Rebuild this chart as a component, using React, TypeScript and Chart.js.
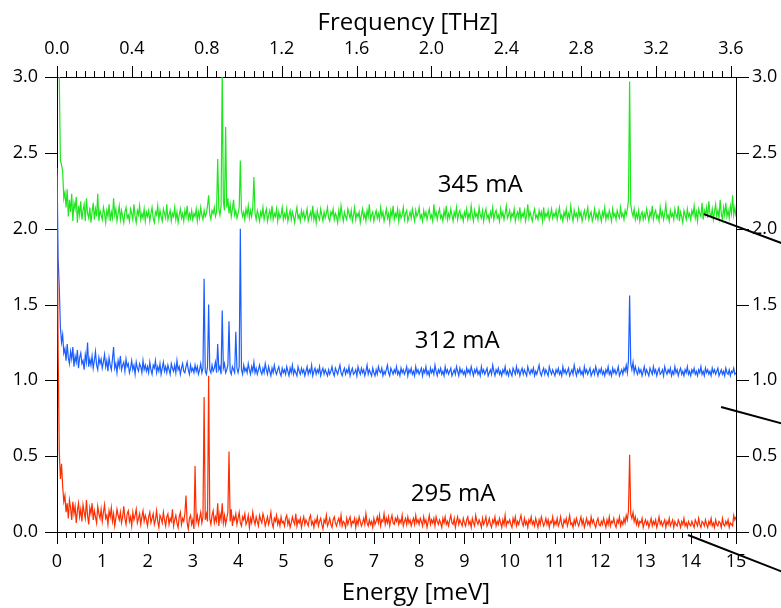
import React, { useEffect, useRef } from "react";
import { Chart, registerables } from "chart.js";

Chart.register(...registerables);

// Energy grid (meV) step between samples; 1 meV = 0.241799 THz
const ENERGY_STEP_MEV = 0.025;
const MEV_TO_THZ = 0.241799;
const ENERGY_MIN = 0;
const ENERGY_MAX = 15;
const SIGNAL_MIN = 0;
const SIGNAL_MAX = 3;

// 295 mA spectrum (offset 0), 40 samples per meV
const RED_295 = [
  2.35, 1.20, 0.53, 0.35, 0.45, 0.30, 0.20, 0.24, 0.13, 0.19, 0.09, 0.21, 0.16, 0.08, 0.20, 0.12, 0.17, 0.06, 0.14, 0.19,
  0.10, 0.15, 0.07, 0.18, 0.13, 0.09, 0.21, 0.11, 0.05, 0.16, 0.12, 0.19, 0.08, 0.14, 0.10, 0.06, 0.17, 0.12, 0.09, 0.15,
  0.07, 0.13, 0.18, 0.09, 0.11, 0.05, 0.14, 0.10, 0.16, 0.07, 0.12, 0.04, 0.09, 0.15, 0.11, 0.08, 0.13, 0.06, 0.10, 0.17,
  0.09, 0.05, 0.12, 0.14, 0.07, 0.10, 0.04, 0.13, 0.08, 0.11, 0.15, 0.06, 0.09, 0.12, 0.05, 0.10, 0.14, 0.07, 0.11, 0.08,
  0.04, 0.10, 0.13, 0.06, 0.09, 0.12, 0.05, 0.08, 0.14, 0.07, 0.03, 0.11, 0.09, 0.06, 0.13, 0.08, 0.04, 0.10, 0.12, 0.05,
  0.09, 0.07, 0.15, 0.04, 0.08, 0.11, 0.06, 0.03, 0.10, 0.13, 0.05, 0.09, 0.07, 0.12, 0.24, 0.06, 0.02, 0.09, 0.11, 0.05,
  0.08, 0.02, 0.435, 0.07, 0.11, 0.05, 0.09, 0.13, 0.06, 0.10, 0.89, 0.08, 0.12, 0.07, 1.03, 0.09, 0.05, 0.11, 0.14, 0.06,
  0.10, 0.07, 0.19, 0.04, 0.12, 0.08, 0.19, 0.06, 0.11, 0.05, 0.09, 0.13, 0.53, 0.07, 0.15, 0.04, 0.10, 0.08, 0.12, 0.05,
  0.09, 0.13, 0.06, 0.04, 0.10, 0.08, 0.12, 0.05, 0.07, 0.11, 0.03, 0.09, 0.06, 0.13, 0.08, 0.05, 0.10, 0.07, 0.04, 0.11,
  0.08, 0.06, 0.12, 0.09, 0.04, 0.07, 0.10, 0.05, 0.08, 0.13, 0.06, 0.03, 0.09, 0.07, 0.11, 0.05, 0.08, 0.04, 0.10, 0.06,
  0.07, 0.04, 0.09, 0.11, 0.05, 0.08, 0.03, 0.06, 0.10, 0.07, 0.05, 0.12, 0.04, 0.08, 0.06, 0.09, 0.03, 0.07, 0.10, 0.05,
  0.08, 0.06, 0.04, 0.09, 0.11, 0.05, 0.07, 0.03, 0.08, 0.06, 0.10, 0.04, 0.07, 0.09, 0.05, 0.02, 0.08, 0.06, 0.11, 0.04,
  0.06, 0.09, 0.05, 0.03, 0.08, 0.10, 0.06, 0.04, 0.07, 0.09, 0.05, 0.11, 0.04, 0.07, 0.06, 0.03, 0.09, 0.05, 0.08, 0.10,
  0.04, 0.07, 0.06, 0.09, 0.03, 0.08, 0.05, 0.10, 0.07, 0.04, 0.06, 0.09, 0.05, 0.12, 0.06, 0.04, 0.08, 0.05, 0.07, 0.03,
  0.09, 0.05, 0.07, 0.10, 0.06, 0.11, 0.04, 0.08, 0.07, 0.12, 0.05, 0.09, 0.06, 0.10, 0.04, 0.08, 0.11, 0.06, 0.05, 0.09,
  0.07, 0.10, 0.05, 0.08, 0.06, 0.11, 0.04, 0.07, 0.09, 0.05, 0.10, 0.06, 0.08, 0.04, 0.07, 0.09, 0.05, 0.11, 0.06, 0.08,
  0.05, 0.09, 0.07, 0.04, 0.10, 0.06, 0.08, 0.03, 0.07, 0.11, 0.05, 0.08, 0.06, 0.09, 0.04, 0.10, 0.07, 0.05, 0.08, 0.06,
  0.03, 0.09, 0.06, 0.10, 0.05, 0.07, 0.04, 0.08, 0.11, 0.06, 0.05, 0.09, 0.03, 0.07, 0.10, 0.05, 0.08, 0.06, 0.04, 0.09,
  0.06, 0.04, 0.08, 0.10, 0.05, 0.07, 0.03, 0.09, 0.06, 0.04, 0.11, 0.07, 0.05, 0.08, 0.06, 0.03, 0.09, 0.05, 0.07, 0.10,
  0.04, 0.06, 0.09, 0.05, 0.03, 0.08, 0.06, 0.10, 0.04, 0.07, 0.05, 0.09, 0.06, 0.03, 0.08, 0.05, 0.11, 0.04, 0.07, 0.06,
  0.08, 0.05, 0.03, 0.09, 0.06, 0.10, 0.04, 0.07, 0.05, 0.08, 0.11, 0.06, 0.04, 0.09, 0.05, 0.07, 0.03, 0.08, 0.06, 0.10,
  0.05, 0.07, 0.04, 0.09, 0.06, 0.03, 0.08, 0.05, 0.10, 0.07, 0.04, 0.06, 0.09, 0.05, 0.08, 0.03, 0.07, 0.06, 0.10, 0.04,
  0.07, 0.05, 0.09, 0.04, 0.06, 0.10, 0.05, 0.03, 0.08, 0.06, 0.09, 0.04, 0.07, 0.11, 0.05, 0.06, 0.03, 0.08, 0.05, 0.09,
  0.06, 0.04, 0.07, 0.10, 0.05, 0.08, 0.03, 0.06, 0.09, 0.05, 0.07, 0.04, 0.10, 0.06, 0.08, 0.05, 0.03, 0.07, 0.09, 0.05,
  0.04, 0.07, 0.05, 0.09, 0.06, 0.03, 0.08, 0.05, 0.10, 0.04, 0.07, 0.06, 0.09, 0.05, 0.03, 0.08, 0.06, 0.10, 0.04, 0.07,
  0.05, 0.09, 0.06, 0.11, 0.08, 0.14, 0.51, 0.12, 0.09, 0.13, 0.07, 0.10, 0.05, 0.08, 0.04, 0.07, 0.06, 0.09, 0.03, 0.06,
  0.08, 0.05, 0.07, 0.03, 0.06, 0.09, 0.04, 0.07, 0.05, 0.08, 0.03, 0.06, 0.10, 0.05, 0.07, 0.04, 0.06, 0.08, 0.03, 0.07,
  0.05, 0.09, 0.04, 0.06, 0.08, 0.03, 0.07, 0.05, 0.04, 0.08, 0.06, 0.03, 0.07, 0.05, 0.09, 0.04, 0.06, 0.03, 0.07, 0.05,
  0.04, 0.07, 0.05, 0.03, 0.08, 0.06, 0.04, 0.09, 0.05, 0.03, 0.07, 0.06, 0.04, 0.08, 0.05, 0.03, 0.07, 0.05, 0.09, 0.04,
  0.06, 0.03, 0.08, 0.05, 0.04, 0.07, 0.06, 0.03, 0.09, 0.05, 0.04, 0.07, 0.05, 0.08, 0.03, 0.06, 0.05, 0.04, 0.11, 0.08,
  0.10,
];

// 312 mA spectrum (offset 1), 40 samples per meV
const BLUE_312 = [
  2.40, 1.80, 1.62, 1.35, 1.25, 1.30, 1.18, 1.21, 1.13, 1.24, 1.15, 1.11, 1.19, 1.14, 1.22, 1.09, 1.16, 1.12, 1.20, 1.08,
  1.15, 1.18, 1.11, 1.13, 1.07, 1.17, 1.12, 1.25, 1.09, 1.14, 1.10, 1.16, 1.08, 1.13, 1.19, 1.10, 1.07, 1.15, 1.11, 1.14,
  1.08, 1.12, 1.17, 1.09, 1.13, 1.06, 1.15, 1.10, 1.07, 1.14, 1.22, 1.08, 1.11, 1.05, 1.13, 1.09, 1.16, 1.07, 1.10, 1.12,
  1.06, 1.14, 1.09, 1.11, 1.05, 1.08, 1.13, 1.07, 1.10, 1.04, 1.12, 1.08, 1.06, 1.11, 1.09, 1.05, 1.13, 1.07, 1.10, 1.06,
  1.09, 1.05, 1.12, 1.07, 1.04, 1.10, 1.08, 1.13, 1.05, 1.09, 1.06, 1.11, 1.04, 1.08, 1.12, 1.06, 1.09, 1.05, 1.10, 1.07,
  1.04, 1.11, 1.08, 1.06, 1.10, 1.05, 1.13, 1.07, 1.09, 1.04, 1.08, 1.11, 1.06, 1.05, 1.09, 1.12, 1.07, 1.04, 1.10, 1.06,
  1.08, 1.05, 1.10, 1.06, 1.09, 1.04, 1.07, 1.11, 1.05, 1.08, 1.67, 1.06, 1.04, 1.09, 1.50, 1.07, 1.05, 1.10, 1.06, 1.08,
  1.12, 1.05, 1.24, 1.07, 1.09, 1.04, 1.46, 1.08, 1.11, 1.05, 1.07, 1.10, 1.39, 1.06, 1.04, 1.09, 1.07, 1.05, 1.32, 1.08,
  1.05, 1.09, 2.00, 1.07, 1.04, 1.10, 1.06, 1.08, 1.05, 1.11, 1.07, 1.04, 1.09, 1.06, 1.12, 1.05, 1.08, 1.04, 1.07, 1.10,
  1.06, 1.04, 1.08, 1.05, 1.11, 1.07, 1.04, 1.09, 1.06, 1.03, 1.08, 1.05, 1.10, 1.06, 1.04, 1.07, 1.09, 1.05, 1.03, 1.08,
  1.05, 1.07, 1.04, 1.09, 1.06, 1.03, 1.08, 1.05, 1.10, 1.04, 1.07, 1.05, 1.03, 1.09, 1.06, 1.04, 1.08, 1.05, 1.07, 1.03,
  1.06, 1.09, 1.04, 1.07, 1.05, 1.10, 1.03, 1.06, 1.08, 1.04, 1.07, 1.05, 1.09, 1.03, 1.06, 1.08, 1.04, 1.07, 1.05, 1.03,
  1.07, 1.04, 1.06, 1.09, 1.05, 1.03, 1.08, 1.06, 1.04, 1.07, 1.10, 1.05, 1.03, 1.06, 1.08, 1.04, 1.07, 1.05, 1.09, 1.03,
  1.06, 1.08, 1.04, 1.05, 1.07, 1.03, 1.09, 1.06, 1.04, 1.08, 1.05, 1.07, 1.03, 1.06, 1.10, 1.04, 1.07, 1.05, 1.03, 1.08,
  1.05, 1.03, 1.07, 1.04, 1.09, 1.06, 1.05, 1.08, 1.03, 1.06, 1.04, 1.07, 1.10, 1.05, 1.03, 1.08, 1.06, 1.04, 1.07, 1.05,
  1.09, 1.04, 1.06, 1.03, 1.08, 1.05, 1.07, 1.04, 1.06, 1.09, 1.03, 1.07, 1.05, 1.08, 1.04, 1.06, 1.03, 1.09, 1.05, 1.07,
  1.04, 1.06, 1.08, 1.03, 1.07, 1.05, 1.09, 1.04, 1.06, 1.03, 1.08, 1.05, 1.07, 1.04, 1.10, 1.06, 1.03, 1.07, 1.05, 1.08,
  1.04, 1.06, 1.03, 1.09, 1.05, 1.07, 1.04, 1.06, 1.08, 1.03, 1.05, 1.07, 1.04, 1.09, 1.06, 1.03, 1.08, 1.05, 1.07, 1.04,
  1.06, 1.03, 1.08, 1.05, 1.07, 1.04, 1.09, 1.06, 1.03, 1.07, 1.05, 1.08, 1.04, 1.06, 1.03, 1.09, 1.05, 1.07, 1.04, 1.06,
  1.08, 1.03, 1.05, 1.07, 1.04, 1.10, 1.06, 1.03, 1.07, 1.05, 1.08, 1.04, 1.06, 1.03, 1.07, 1.05, 1.09, 1.04, 1.06, 1.03,
  1.07, 1.05, 1.03, 1.08, 1.06, 1.04, 1.09, 1.05, 1.07, 1.03, 1.06, 1.08, 1.04, 1.07, 1.05, 1.03, 1.09, 1.06, 1.04, 1.07,
  1.05, 1.08, 1.03, 1.06, 1.04, 1.07, 1.10, 1.05, 1.03, 1.06, 1.08, 1.04, 1.07, 1.05, 1.03, 1.09, 1.06, 1.04, 1.07, 1.05,
  1.03, 1.07, 1.05, 1.08, 1.04, 1.06, 1.03, 1.09, 1.05, 1.07, 1.04, 1.06, 1.08, 1.03, 1.05, 1.07, 1.04, 1.10, 1.06, 1.03,
  1.07, 1.05, 1.08, 1.04, 1.06, 1.03, 1.09, 1.05, 1.07, 1.04, 1.06, 1.08, 1.03, 1.05, 1.07, 1.04, 1.09, 1.06, 1.03, 1.07,
  1.05, 1.08, 1.04, 1.06, 1.03, 1.07, 1.05, 1.09, 1.04, 1.06, 1.03, 1.08, 1.05, 1.07, 1.04, 1.06, 1.09, 1.03, 1.05, 1.07,
  1.04, 1.08, 1.06, 1.10, 1.05, 1.13, 1.56, 1.11, 1.07, 1.12, 1.05, 1.09, 1.06, 1.04, 1.08, 1.05, 1.07, 1.03, 1.06, 1.09,
  1.04, 1.07, 1.05, 1.03, 1.08, 1.06, 1.04, 1.09, 1.05, 1.07, 1.03, 1.06, 1.08, 1.04, 1.05, 1.07, 1.03, 1.09, 1.06, 1.04,
  1.07, 1.05, 1.08, 1.03, 1.06, 1.04, 1.09, 1.05, 1.07, 1.03, 1.06, 1.08, 1.04, 1.06, 1.03, 1.07, 1.05, 1.09, 1.04, 1.06,
  1.03, 1.07, 1.05, 1.08, 1.04, 1.06, 1.03, 1.07, 1.05, 1.09, 1.04, 1.06, 1.03, 1.08, 1.05, 1.07, 1.04, 1.06, 1.03, 1.08,
  1.05, 1.07, 1.04, 1.06, 1.08, 1.03, 1.05, 1.07, 1.04, 1.06, 1.03, 1.08, 1.05, 1.04, 1.07, 1.03, 1.06, 1.05, 1.08, 1.04,
  1.05,
];

// 345 mA spectrum (offset 2), 40 samples per meV
const GREEN_345 = [
  3.30, 3.10, 3.00, 2.45, 2.42, 2.38, 2.20, 2.24, 2.14, 2.26, 2.08, 2.19, 2.11, 2.23, 2.05, 2.17, 2.13, 2.21, 2.04, 2.15,
  2.09, 2.18, 2.06, 2.12, 2.16, 2.05, 2.20, 2.10, 2.07, 2.14, 2.04, 2.11, 2.17, 2.06, 2.13, 2.08, 2.23, 2.05, 2.12, 2.09,
  2.06, 2.14, 2.10, 2.04, 2.12, 2.08, 2.16, 2.05, 2.11, 2.07, 2.20, 2.09, 2.13, 2.05, 2.10, 2.15, 2.06, 2.12, 2.08, 2.04,
  2.11, 2.14, 2.07, 2.09, 2.05, 2.13, 2.10, 2.06, 2.16, 2.08, 2.04, 2.12, 2.09, 2.15, 2.06, 2.10, 2.07, 2.13, 2.05, 2.11,
  2.08, 2.12, 2.05, 2.10, 2.14, 2.07, 2.04, 2.11, 2.09, 2.15, 2.06, 2.12, 2.08, 2.05, 2.13, 2.10, 2.07, 2.16, 2.06, 2.09,
  2.12, 2.05, 2.10, 2.08, 2.14, 2.06, 2.11, 2.04, 2.09, 2.13, 2.07, 2.10, 2.05, 2.12, 2.08, 2.15, 2.06, 2.10, 2.07, 2.12,
  2.06, 2.10, 2.08, 2.13, 2.05, 2.11, 2.07, 2.14, 2.09, 2.06, 2.12, 2.08, 2.10, 2.15, 2.22, 2.09, 2.06, 2.12, 2.10, 2.14,
  2.08, 2.11, 2.46, 2.13, 2.09, 2.15, 3.05, 2.18, 2.12, 2.67, 2.14, 2.20, 2.10, 2.16, 2.08, 2.13, 2.19, 2.09, 2.12, 2.07,
  2.10, 2.14, 2.45, 2.12, 2.08, 2.11, 2.06, 2.13, 2.09, 2.15, 2.07, 2.12, 2.08, 2.14, 2.34, 2.10, 2.06, 2.12, 2.09, 2.05,
  2.11, 2.08, 2.14, 2.06, 2.10, 2.13, 2.05, 2.09, 2.12, 2.07, 2.15, 2.06, 2.10, 2.08, 2.13, 2.05, 2.11, 2.07, 2.09, 2.14,
  2.06, 2.10, 2.07, 2.13, 2.05, 2.09, 2.12, 2.06, 2.11, 2.08, 2.04, 2.10, 2.14, 2.07, 2.09, 2.05, 2.12, 2.08, 2.11, 2.06,
  2.09, 2.13, 2.05, 2.08, 2.11, 2.07, 2.15, 2.06, 2.10, 2.04, 2.12, 2.08, 2.06, 2.13, 2.09, 2.05, 2.11, 2.07, 2.10, 2.14,
  2.07, 2.05, 2.11, 2.09, 2.13, 2.06, 2.10, 2.08, 2.04, 2.12, 2.07, 2.15, 2.09, 2.05, 2.11, 2.08, 2.06, 2.13, 2.10, 2.07,
  2.12, 2.05, 2.09, 2.14, 2.06, 2.10, 2.08, 2.11, 2.04, 2.09, 2.13, 2.07, 2.10, 2.05, 2.12, 2.08, 2.16, 2.06, 2.09, 2.11,
  2.05, 2.09, 2.12, 2.07, 2.10, 2.06, 2.14, 2.08, 2.11, 2.05, 2.09, 2.13, 2.07, 2.10, 2.04, 2.12, 2.08, 2.15, 2.06, 2.10,
  2.08, 2.13, 2.05, 2.11, 2.07, 2.09, 2.14, 2.06, 2.10, 2.12, 2.05, 2.08, 2.11, 2.07, 2.13, 2.09, 2.05, 2.12, 2.08, 2.10,
  2.14, 2.07, 2.09, 2.05, 2.12, 2.08, 2.11, 2.06, 2.10, 2.13, 2.07, 2.09, 2.05, 2.16, 2.08, 2.11, 2.06, 2.10, 2.13, 2.07,
  2.09, 2.05, 2.12, 2.08, 2.15, 2.06, 2.10, 2.07, 2.13, 2.09, 2.05, 2.11, 2.08, 2.14, 2.06, 2.10, 2.12, 2.07, 2.09, 2.05,
  2.11, 2.08, 2.13, 2.06, 2.10, 2.07, 2.15, 2.09, 2.05, 2.12, 2.08, 2.10, 2.06, 2.14, 2.09, 2.07, 2.12, 2.05, 2.10, 2.13,
  2.07, 2.09, 2.05, 2.11, 2.08, 2.14, 2.06, 2.10, 2.12, 2.07, 2.09, 2.05, 2.13, 2.08, 2.11, 2.06, 2.10, 2.15, 2.07, 2.09,
  2.12, 2.06, 2.10, 2.08, 2.13, 2.05, 2.09, 2.11, 2.07, 2.14, 2.06, 2.10, 2.08, 2.12, 2.05, 2.09, 2.16, 2.07, 2.11, 2.08,
  2.05, 2.10, 2.13, 2.07, 2.09, 2.06, 2.12, 2.08, 2.11, 2.05, 2.14, 2.07, 2.10, 2.08, 2.12, 2.06, 2.09, 2.13, 2.07, 2.10,
  2.08, 2.12, 2.06, 2.10, 2.14, 2.07, 2.09, 2.05, 2.11, 2.08, 2.13, 2.06, 2.10, 2.07, 2.15, 2.09, 2.05, 2.12, 2.08, 2.10,
  2.06, 2.13, 2.08, 2.11, 2.05, 2.09, 2.12, 2.07, 2.10, 2.14, 2.06, 2.09, 2.11, 2.05, 2.08, 2.13, 2.07, 2.10, 2.06, 2.12,
  2.09, 2.05, 2.11, 2.08, 2.14, 2.06, 2.10, 2.07, 2.12, 2.09, 2.05, 2.13, 2.08, 2.10, 2.06, 2.12, 2.09, 2.07, 2.14, 2.08,
  2.10, 2.06, 2.12, 2.09, 2.13, 2.19, 2.97, 2.16, 2.11, 2.08, 2.13, 2.06, 2.10, 2.07, 2.12, 2.05, 2.09, 2.11, 2.06, 2.10,
  2.07, 2.13, 2.09, 2.05, 2.11, 2.08, 2.15, 2.06, 2.10, 2.12, 2.07, 2.09, 2.05, 2.14, 2.08, 2.11, 2.06, 2.10, 2.16, 2.07,
  2.09, 2.05, 2.12, 2.08, 2.10, 2.06, 2.13, 2.09, 2.07, 2.15, 2.05, 2.11, 2.08, 2.04, 2.12, 2.09, 2.06, 2.13, 2.08, 2.10,
  2.06, 2.12, 2.09, 2.15, 2.07, 2.11, 2.05, 2.13, 2.10, 2.08, 2.17, 2.06, 2.12, 2.09, 2.14, 2.07, 2.18, 2.10, 2.08, 2.13,
  2.06, 2.11, 2.16, 2.08, 2.12, 2.07, 2.19, 2.10, 2.06, 2.14, 2.09, 2.17, 2.08, 2.12, 2.07, 2.15, 2.10, 2.22, 2.09, 2.14,
  2.08,
];

const SERIES_NAMES = ["295 mA", "312 mA", "345 mA"];
const SERIES_COLORS = ["#ff2d00", "#1a5eff", "#1ee61e"];
// label anchor positions in data units (meV, signal)
const LABEL_ENERGY = [8.75, 8.84, 9.35];
const LABEL_SIGNAL = [0.25, 1.26, 2.29];

// callout line segments (data units: meV, signal), extend past the frame
const CALLOUT_LINES = [
  [14.29, 2.096, 16.05, 1.90],
  [14.67, 0.824, 16.05, 0.712],
  [13.94, -0.02, 16.05, -0.265],
];

const ENERGY_MAJOR = 1;
const ENERGY_MINOR = 0.2;
const FREQ_MAJOR = 0.4;
const FREQ_MINOR = 0.05;
const SIGNAL_MAJOR = 0.5;

const FONT = "'Open Sans', 'DejaVu Sans', sans-serif";

const ENERGY = RED_295.map((_, i) => +(i * ENERGY_STEP_MEV).toFixed(3));

const decorPlugin = {
  id: "decor",
  afterDatasetsDraw(chart: any) {
    const { ctx, chartArea: a, scales } = chart;
    const x = scales.x;
    const xt = scales.xTop;
    const y = scales.y;
    ctx.save();
    ctx.strokeStyle = "#000";
    ctx.lineWidth = 1;
    ctx.beginPath();
    // bottom ticks (energy)
    const nE = Math.round((ENERGY_MAX - ENERGY_MIN) / ENERGY_MINOR);
    const perE = Math.round(ENERGY_MAJOR / ENERGY_MINOR);
    for (let k = 0; k <= nE; k++) {
      const px = Math.round(x.getPixelForValue(ENERGY_MIN + k * ENERGY_MINOR)) + 0.5;
      const len = k % perE === 0 ? 12 : 6;
      ctx.moveTo(px, a.bottom);
      ctx.lineTo(px, a.bottom + len);
    }
    // top ticks (frequency)
    const nF = Math.floor(xt.max / FREQ_MINOR + 1e-6);
    const perF = Math.round(FREQ_MAJOR / FREQ_MINOR);
    for (let k = 0; k <= nF; k++) {
      const px = Math.round(xt.getPixelForValue(k * FREQ_MINOR)) + 0.5;
      const len = k % perF === 0 ? 11 : 6;
      ctx.moveTo(px, a.top);
      ctx.lineTo(px, a.top - len);
    }
    // left / right ticks
    const nS = Math.round((SIGNAL_MAX - SIGNAL_MIN) / SIGNAL_MAJOR);
    for (let k = 0; k <= nS; k++) {
      const py = Math.round(y.getPixelForValue(SIGNAL_MIN + k * SIGNAL_MAJOR)) + 0.5;
      ctx.moveTo(a.left, py);
      ctx.lineTo(a.left - 12, py);
      ctx.moveTo(a.right, py);
      ctx.lineTo(a.right + 13, py);
    }
    ctx.stroke();

    // callout lines
    ctx.lineWidth = 2;
    ctx.beginPath();
    CALLOUT_LINES.forEach(([x1, y1, x2, y2]) => {
      ctx.moveTo(x.getPixelForValue(x1), y.getPixelForValue(y1));
      ctx.lineTo(x.getPixelForValue(x2), y.getPixelForValue(y2));
    });
    ctx.stroke();

    // series labels
    ctx.fillStyle = "#000";
    ctx.font = `24px ${FONT}`;
    ctx.textAlign = "center";
    ctx.textBaseline = "middle";
    SERIES_NAMES.forEach((name, i) => {
      ctx.fillText(name, x.getPixelForValue(LABEL_ENERGY[i]), y.getPixelForValue(LABEL_SIGNAL[i]));
    });

    // axis titles
    ctx.font = `24px ${FONT}`;
    ctx.textBaseline = "alphabetic";
    ctx.fillText("Frequency [THz]", a.left + 351, 30);
    ctx.fillText("Energy [meV]", a.left + 359, 600);
    ctx.restore();
  },
};

export default function App() {
  const ref = useRef<HTMLCanvasElement | null>(null);

  useEffect(() => {
    if (!ref.current) return;
    const series = [RED_295, BLUE_312, GREEN_345];
    const chart = new Chart(ref.current, {
      type: "line",
      data: {
        datasets: series.map((vals, i) => ({
          label: SERIES_NAMES[i],
          data: vals.map((v, j) => ({ x: ENERGY[j], y: v })),
          borderColor: SERIES_COLORS[i],
          backgroundColor: SERIES_COLORS[i],
          borderWidth: 1.2,
          pointRadius: 0,
          tension: 0,
          fill: false,
          xAxisID: "x",
          yAxisID: "y",
        })),
      },
      options: {
        responsive: false,
        animation: false,
        events: [],
        layout: { padding: 0 },
        plugins: {
          legend: { display: false },
          tooltip: { enabled: false },
        },
        scales: {
          x: {
            type: "linear",
            position: "bottom",
            min: ENERGY_MIN,
            max: ENERGY_MAX,
            grid: { display: false, drawTicks: false },
            border: { display: true, color: "#000", width: 1 },
            ticks: {
              stepSize: ENERGY_MAJOR,
              maxRotation: 0,
              autoSkip: false,
              padding: 19,
              color: "#000",
              font: { family: FONT, size: 18 },
              callback: (v: any) => String(v),
            },
            afterFit: (s: any) => {
              s.height = 76;
            },
          },
          xTop: {
            type: "linear",
            position: "top",
            min: 0,
            max: ENERGY_MAX * MEV_TO_THZ,
            grid: { display: false, drawTicks: false },
            border: { display: true, color: "#000", width: 1 },
            ticks: {
              stepSize: FREQ_MAJOR,
              includeBounds: false,
              maxRotation: 0,
              autoSkip: false,
              padding: 17,
              color: "#000",
              font: { family: FONT, size: 18 },
              callback: (v: any) => Number(v).toFixed(1),
            },
            afterFit: (s: any) => {
              s.height = 77;
            },
          },
          y: {
            type: "linear",
            position: "left",
            min: SIGNAL_MIN,
            max: SIGNAL_MAX,
            grid: { display: false, drawTicks: false },
            border: { display: true, color: "#000", width: 1 },
            ticks: {
              stepSize: SIGNAL_MAJOR,
              padding: 19,
              color: "#000",
              font: { family: FONT, size: 18 },
              callback: (v: any) => Number(v).toFixed(1),
            },
            afterFit: (s: any) => {
              s.width = 57;
            },
          },
          yRight: {
            type: "linear",
            position: "right",
            min: SIGNAL_MIN,
            max: SIGNAL_MAX,
            grid: { display: false, drawTicks: false },
            border: { display: true, color: "#000", width: 1 },
            ticks: {
              stepSize: SIGNAL_MAJOR,
              padding: 16,
              color: "#000",
              font: { family: FONT, size: 18 },
              callback: (v: any) => Number(v).toFixed(1),
            },
            afterFit: (s: any) => {
              s.width = 45;
            },
          },
        },
      },
      plugins: [decorPlugin],
    });
    return () => chart.destroy();
  }, []);

  return (
    <div style={{ position: "fixed", left: 0, top: 0, width: 781, height: 608, background: "#fff" }}>
      <canvas ref={ref} width={781} height={608} style={{ display: "block" }} />
    </div>
  );
}
